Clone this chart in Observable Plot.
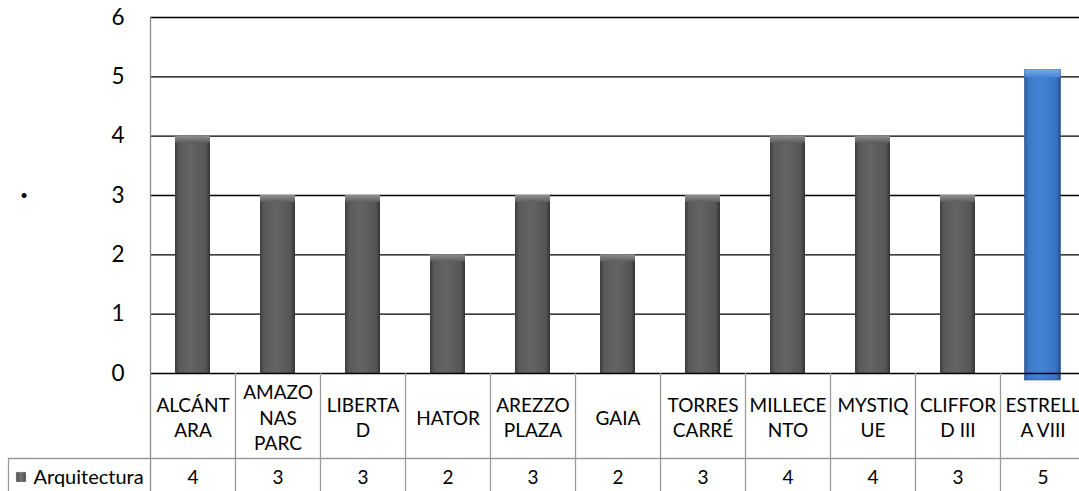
<!DOCTYPE html>
<html>
<head>
<meta charset="utf-8">
<script src="https://cdn.jsdelivr.net/npm/d3@7"></script>
<script src="https://cdn.jsdelivr.net/npm/@observablehq/plot@0.6"></script>
<style>
  html, body { margin: 0; padding: 0; background: #fff; }
  #chart svg { display: block; }
</style>
</head>
<body>
<div id="chart"></div>
<script>
// ---- data ----
const categories = ["ALCÁNTARA", "AMAZONAS PARC", "LIBERTAD", "HATOR", "AREZZO PLAZA", "GAIA", "TORRES CARRÉ", "MILLECENTO", "MYSTIQUE", "CLIFFORD III", "ESTRELLA VIII"];
const categoryLabels = ["ALCÁNT\nARA", "AMAZO\nNAS\nPARC", "LIBERTA\nD", "HATOR", "AREZZO\nPLAZA", "GAIA", "TORRES\nCARRÉ", "MILLECE\nNTO", "MYSTIQ\nUE", "CLIFFOR\nD III", "ESTRELL\nA VIII"];
const values = [4, 3, 3, 2, 3, 2, 3, 4, 4, 3, 5];
const seriesName = "Arquitectura";
const highlighted = "ESTRELLA VIII";
const yTicks = [0, 1, 2, 3, 4, 5, 6];
const yTitle = "·";

const rows = categories.map((c, i) => ({cat: c, label: categoryLabels[i], value: values[i]}));
const grayRows = rows.filter(d => d.cat !== highlighted);
const blueRows = rows.filter(d => d.cat === highlighted);

const FONT = "Lato, 'Open Sans', sans-serif";
const FS = 19;

const chart = Plot.plot({
  width: 1079,
  height: 491,
  marginTop: 17,
  marginBottom: 118,
  marginLeft: 150,
  marginRight: 0,
  style: {fontFamily: FONT, fontSize: FS + "px", color: "#000", background: "#fff"},
  x: {type: "band", domain: categories, range: [150, 1085], padding: 0, axis: null},
  y: {domain: [0, 6], axis: null},
  marks: [
    // gridlines
    Plot.ruleY(yTicks.filter(d => d > 0), {stroke: "#000", strokeWidth: 1.3}),
    // y axis labels
    Plot.axisY({ticks: yTicks, tickSize: 0, tickPadding: 26, fontSize: 22.5, label: null, tickFormat: d => String(d)}),
    Plot.text([yTitle], {frameAnchor: "left", dx: -130, fontSize: 26, fontWeight: "bold"}),
    // bars
    Plot.barY(grayRows, {x: "cat", y: "value", fill: "url(#gbar)", insetLeft: 25, insetRight: 25}),
    Plot.barY(grayRows, {x: "cat", y1: "value", y2: "value", insetBottom: -7, insetLeft: 25, insetRight: 25, fill: "url(#gtop)"}),
    Plot.barY(blueRows, {x: "cat", y: "value", fill: "url(#bbar)", insetTop: -7, insetBottom: -7, insetLeft: 24.5, insetRight: 24.5, stroke: "#2a4f85", strokeWidth: 0.6}),
    Plot.barY(blueRows, {x: "cat", y1: "value", y2: "value", insetTop: -7, insetBottom: -1, insetLeft: 24.5, insetRight: 24.5, fill: "url(#btop)"}),
    // baseline
    Plot.ruleY([0], {stroke: "#000", strokeWidth: 1.3}),
    // left axis line
    Plot.ruleX([categories[0]], {dx: -42.5, stroke: "#8c8c8c", strokeWidth: 1.3, insetBottom: -118}),
    // data table vertical borders
    Plot.ruleX(categories.slice(1), {dx: -42.5, stroke: "#9a9a9a", strokeWidth: 1.3, insetTop: 356, insetBottom: -118}),
    // legend cell left border
    Plot.ruleX([categories[0]], {dx: -184.5, stroke: "#9a9a9a", strokeWidth: 1.3, insetTop: 441, insetBottom: -118}),
    // row divider
    Plot.ruleY([0], {dy: 85, stroke: "#9a9a9a", strokeWidth: 1.3, insetLeft: -142}),
    // category labels
    Plot.text(rows, {x: "cat", text: "label", frameAnchor: "bottom", dy: 43, lineAnchor: "middle", lineHeight: 1.33, fill: "#000"}),
    // values
    Plot.text(rows, {x: "cat", text: d => String(d.value), frameAnchor: "bottom", dy: 104, lineAnchor: "middle", fill: "#000"}),
    // legend key
    Plot.dot([seriesName], {frameAnchor: "bottom-left", dx: -129.5, dy: 103.5, symbol: "square", r: 5.2, fill: "url(#gkey)", stroke: "#444", strokeWidth: 0.5}),
    Plot.text([seriesName], {frameAnchor: "bottom-left", dx: -117, dy: 104, textAnchor: "start", lineAnchor: "middle", fill: "#000", fontSize: 20})
  ]
});

// gradient definitions for bevelled bars
const defs = d3.select(chart).insert("defs", ":first-child");
function hgrad(id, stops) {
  const g = defs.append("linearGradient").attr("id", id).attr("x1", "0").attr("x2", "1").attr("y1", "0").attr("y2", "0");
  stops.forEach(([o, c]) => g.append("stop").attr("offset", o).attr("stop-color", c));
}
function vgrad(id, stops) {
  const g = defs.append("linearGradient").attr("id", id).attr("x1", "0").attr("x2", "0").attr("y1", "0").attr("y2", "1");
  stops.forEach(([o, c]) => g.append("stop").attr("offset", o).attr("stop-color", c));
}
hgrad("gbar", [[0, "#3c3c3c"], [0.12, "#5a5a5a"], [0.45, "#646464"], [0.88, "#555555"], [1, "#343434"]]);
vgrad("gtop", [[0, "#8e8e8e"], [1, "#5e5e5e"]]);
hgrad("bbar", [[0, "#2c5e9f"], [0.12, "#3c79c8"], [0.45, "#4283d6"], [0.88, "#3773c2"], [1, "#254f8a"]]);
vgrad("btop", [[0, "#7aaae6"], [1, "#4585d6"]]);
hgrad("gkey", [[0, "#4a4a4a"], [0.5, "#777"], [1, "#4a4a4a"]]);

document.getElementById("chart").appendChild(chart);
</script>
</body>
</html>
